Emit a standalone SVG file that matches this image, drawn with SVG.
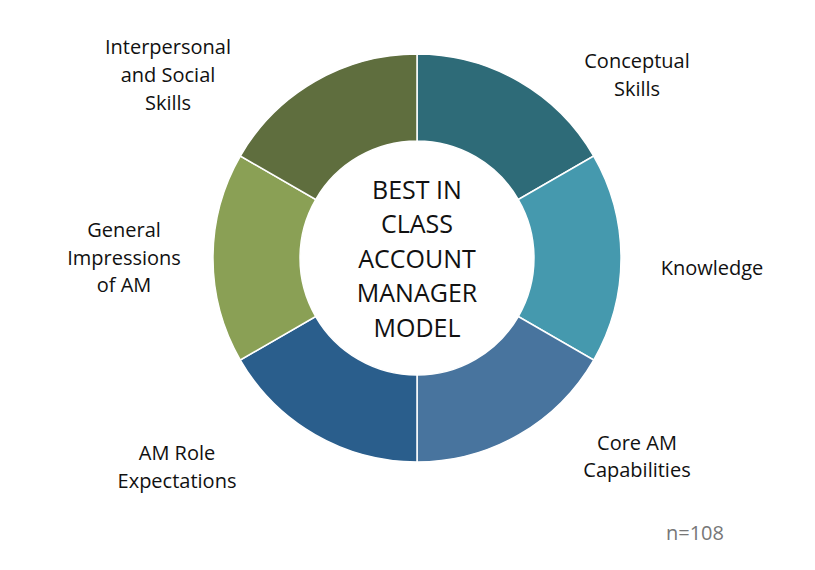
<svg xmlns="http://www.w3.org/2000/svg" width="815" height="570" viewBox="0 0 815 570">
<style>
.seg{stroke:#fff;stroke-width:1.5}
.lbl{font-family:"Source Sans Pro","Open Sans","Liberation Sans",sans-serif;font-size:20px;fill:#111;text-anchor:middle}
.ctr{font-family:"Source Sans Pro","Open Sans","Liberation Sans",sans-serif;font-size:25px;fill:#111;text-anchor:middle}
</style>
<rect width="815" height="570" fill="#fff"/>
<g id="conceptual"><path class="seg" fill="#2e6b78" d="M417,54 A204,204 0 0 1 593.7,156 L518.3,199.5 A117,117 0 0 0 417,141 Z"/>
<text class="lbl" x="637" y="68">Conceptual</text><text class="lbl" x="637" y="96">Skills</text></g>
<g id="knowledge"><path class="seg" fill="#4599ae" d="M593.7,156 A204,204 0 0 1 593.7,360 L518.3,316.5 A117,117 0 0 0 518.3,199.5 Z"/>
<text class="lbl" x="712" y="275">Knowledge</text></g>
<g id="core"><path class="seg" fill="#48749e" d="M593.7,360 A204,204 0 0 1 417,462 L417,375 A117,117 0 0 0 518.3,316.5 Z"/>
<text class="lbl" x="637" y="450">Core AM</text><text class="lbl" x="637" y="477">Capabilities</text></g>
<g id="role"><path class="seg" fill="#2a5e8c" d="M417,462 A204,204 0 0 1 240.3,360 L315.7,316.5 A117,117 0 0 0 417,375 Z"/>
<text class="lbl" x="177" y="460">AM Role</text><text class="lbl" x="177" y="488">Expectations</text></g>
<g id="general"><path class="seg" fill="#8aa055" d="M240.3,360 A204,204 0 0 1 240.3,156 L315.7,199.5 A117,117 0 0 0 315.7,316.5 Z"/>
<text class="lbl" x="124" y="237">General</text><text class="lbl" x="124" y="265">Impressions</text><text class="lbl" x="124" y="292">of AM</text></g>
<g id="interpersonal"><path class="seg" fill="#5f6e3e" d="M240.3,156 A204,204 0 0 1 417,54 L417,141 A117,117 0 0 0 315.7,199.5 Z"/>
<text class="lbl" x="168" y="54">Interpersonal</text><text class="lbl" x="168" y="82">and Social</text><text class="lbl" x="168" y="110">Skills</text></g>
<g id="center"><text class="ctr" x="417" y="199">BEST IN</text><text class="ctr" x="417" y="233">CLASS</text><text class="ctr" x="417" y="268">ACCOUNT</text><text class="ctr" x="417" y="302">MANAGER</text><text class="ctr" x="417" y="337">MODEL</text></g>
<g id="connectors"/>
<text x="695" y="540" style="font-family:'Source Sans Pro','Open Sans','Liberation Sans',sans-serif;font-size:20px;fill:#777;text-anchor:middle">n=108</text>
</svg>
